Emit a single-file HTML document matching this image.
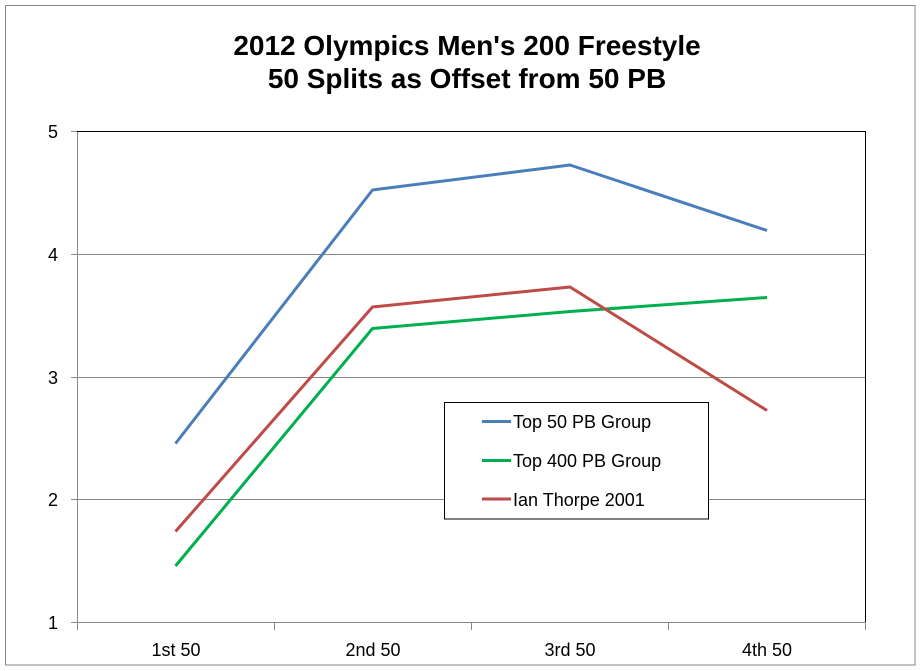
<!DOCTYPE html>
<html><head><meta charset="utf-8"><style>
html,body{margin:0;padding:0;background:#fff;}
svg{display:block;}
text{font-family:"Liberation Sans",Arial,sans-serif;fill:#000;}
</style></head><body>
<svg width="920" height="671" viewBox="0 0 920 671" xmlns="http://www.w3.org/2000/svg">
<rect x="0" y="0" width="920" height="671" fill="#fff"/>
<rect x="5.5" y="5.5" width="909.5" height="659.5" fill="none" stroke="#868686" stroke-width="1"/>
<text x="467" y="55" font-size="28" font-weight="bold" text-anchor="middle">2012 Olympics Men's 200 Freestyle</text>
<text x="467" y="88" font-size="28" font-weight="bold" text-anchor="middle">50 Splits as Offset from 50 PB</text>
<!-- gridlines -->
<g stroke="#868686" stroke-width="1">
<line x1="71" y1="254.5" x2="865" y2="254.5"/>
<line x1="71" y1="377.5" x2="865" y2="377.5"/>
<line x1="71" y1="499.5" x2="865" y2="499.5"/>
<line x1="71" y1="622.5" x2="865" y2="622.5"/>
<line x1="71" y1="131.5" x2="77" y2="131.5"/>
<line x1="77.5" y1="131" x2="77.5" y2="630"/>
<line x1="274.5" y1="622" x2="274.5" y2="630"/>
<line x1="471.5" y1="622" x2="471.5" y2="630"/>
<line x1="668.5" y1="622" x2="668.5" y2="630"/>
<line x1="865.5" y1="622" x2="865.5" y2="630"/>
</g>
<polyline points="77,131.5 865.5,131.5 865.5,622" fill="none" stroke="#000" stroke-width="1"/>
<g font-size="18" text-anchor="end">
<text x="58" y="138">5</text>
<text x="58" y="261">4</text>
<text x="58" y="384">3</text>
<text x="58" y="506">2</text>
<text x="58" y="629">1</text>
</g>
<g font-size="18" text-anchor="middle">
<text x="176" y="656">1st 50</text>
<text x="373" y="656">2nd 50</text>
<text x="570" y="656">3rd 50</text>
<text x="767" y="656">4th 50</text>
</g>
<g fill="none" stroke-width="3" stroke-linejoin="round">
<polyline stroke="#4A7EBB" points="175.5,443.5 372.5,190 570,165 767,230.5"/>
<polyline stroke="#00B050" points="175.5,566 372.5,328.5 570,311.5 767,297.5"/>
<polyline stroke="#BE4B48" points="175.5,531.5 372.5,307 570,287 767,410.5"/>
</g>
<rect x="444.5" y="402.5" width="264" height="116.5" fill="#fff" stroke="#000" stroke-width="1"/>
<g stroke-width="3">
<line x1="482" y1="421.5" x2="511" y2="421.5" stroke="#4A7EBB"/>
<line x1="482" y1="460.5" x2="511" y2="460.5" stroke="#00B050"/>
<line x1="482" y1="499" x2="511" y2="499" stroke="#BE4B48"/>
</g>
<g font-size="18">
<text x="513" y="428">Top 50 PB Group</text>
<text x="513" y="467">Top 400 PB Group</text>
<text x="513" y="506">Ian Thorpe 2001</text>
</g>
</svg>
</body></html>
